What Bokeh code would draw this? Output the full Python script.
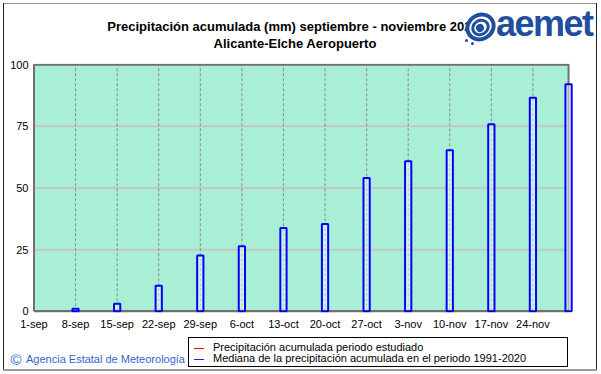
import pandas as pd
from bokeh.plotting import figure
from bokeh.models import FixedTicker, Div
from bokeh.layouts import column, row
from bokeh.embed import file_html
from bokeh.resources import INLINE

# ---------------- data ----------------
title_line1 = "Precipitación acumulada (mm) septiembre - noviembre 2020"
title_line2 = "Alicante-Elche Aeropuerto"
period_start = "2020-09-01"
period_end = "2020-11-30"

tick_dates = ["2020-09-01", "2020-09-08", "2020-09-15", "2020-09-22", "2020-09-29",
              "2020-10-06", "2020-10-13", "2020-10-20", "2020-10-27", "2020-11-03",
              "2020-11-10", "2020-11-17", "2020-11-24"]
tick_labels = ["1-sep", "8-sep", "15-sep", "22-sep", "29-sep", "6-oct", "13-oct",
               "20-oct", "27-oct", "3-nov", "10-nov", "17-nov", "24-nov"]
y_ticks = [0, 25, 50, 75, 100]

median_dates = ["2020-09-08", "2020-09-15", "2020-09-22", "2020-09-29", "2020-10-06",
                "2020-10-13", "2020-10-20", "2020-10-27", "2020-11-03", "2020-11-10",
                "2020-11-17", "2020-11-24", "2020-11-30"]
median_values = [1.0, 3.0, 10.3, 22.6, 26.4, 33.8, 35.4, 54.1, 60.8, 65.3, 75.9, 86.6, 92.1]

obs_dates = ["2020-09-01", "2020-09-14", "2020-09-15"]
obs_values = [0.0, 0.0, 0.4]

legend_labels = ["Precipitación acumulada periodo estudiado",
                 "Mediana de la precipitación acumulada en el periodo 1991-2020"]
credit_text = "Agencia Estatal de Meteorología"
logo_text = "aemet"

# ---------------- helpers ----------------
t0 = pd.Timestamp(period_start)
def to_day(dates):
    return [int((pd.Timestamp(d) - t0).days) for d in dates]

tick_x = to_day(tick_dates)
median_x = to_day(median_dates)
obs_x = to_day(obs_dates)
x_end = to_day([period_end])[0]
y_top = max(y_ticks)

FONT = "Liberation Sans"
CSS_FONT = "'Liberation Sans', Arial, sans-serif"
LOGO_BLUE = "#1f4f9e"
FRAME = "#222222"
FRAME2 = "#999999"
TOTAL_W = 600
SIDE_L, SIDE_R = 4, 4
FIG_W, FIG_H = 592, 278
TOP_H, BOT_H = 56, 38

def box(left, top, w, h, bg, extra=""):
    return (f'<div style="position:absolute;left:{left}px;top:{top}px;width:{w}px;height:{h}px;'
            f'background:{bg};{extra}"></div>')

def text(left, top, content, size, color="#000", weight="normal", lh=None, width=None,
         align="left", extra=""):
    lh = lh if lh is not None else size + 2
    w = f"width:{width}px;" if width is not None else ""
    return (f'<div style="position:absolute;left:{left}px;top:{top}px;{w}text-align:{align};'
            f'font-size:{size}px;font-weight:{weight};line-height:{lh}px;color:{color};'
            f'white-space:nowrap;{extra}">{content}</div>')

# ---------------- figure ----------------
p = figure(width=FIG_W, height=FIG_H, x_range=(-0.25, 91.0), y_range=(-0.5, 100.5),
           output_backend="svg", toolbar_location=None,
           min_border_left=28, min_border_right=22, min_border_top=7, min_border_bottom=22,
           background_fill_color="white", border_fill_color="white")
p.outline_line_color = None
p.xgrid.visible = False
p.ygrid.visible = False

p.quad(left=[0], right=[x_end], bottom=[0], top=[y_top], fill_color="#a9efd6", line_color=None)
inner_y = y_ticks[1:-1]
p.segment(x0=[0] * len(inner_y), x1=[x_end] * len(inner_y), y0=inner_y, y1=inner_y,
          line_color="#c6c6c6", line_width=2)
inner_x = tick_x[1:]
p.segment(x0=inner_x, x1=inner_x, y0=[0] * len(inner_x), y1=[y_top] * len(inner_x),
          line_color="#8a8a8a", line_width=1, line_dash="3 2")

p.line(obs_x, obs_values, line_color="#ff0000", line_width=1)

p.line([0, 0, x_end, x_end], [0, y_top, y_top, 0], line_color="#707070", line_width=2)
p.line([0, x_end], [0, 0], line_color="#707070", line_width=2.5)

p.vbar(x=median_x, top=median_values, width=1.05, bottom=0,
       fill_color="white", fill_alpha=0.45, line_color="#0000ff", line_width=2)

for ax in (p.xaxis[0], p.yaxis[0]):
    ax.axis_line_color = None
    ax.major_tick_line_color = None
    ax.minor_tick_line_color = None
    ax.major_tick_out = 0
    ax.major_tick_in = 0
    ax.minor_tick_out = 0
    ax.minor_tick_in = 0
    ax.major_label_text_font = FONT
    ax.major_label_text_font_size = "11px"
    ax.major_label_text_color = "#000000"
p.xaxis[0].ticker = FixedTicker(ticks=tick_x)
p.xaxis[0].major_label_overrides = {x: l for x, l in zip(tick_x, tick_labels)}
p.xaxis[0].major_label_standoff = 5
p.yaxis[0].ticker = FixedTicker(ticks=y_ticks)
p.yaxis[0].major_label_standoff = 4

# ---------------- header (page coordinates) ----------------
def ring(cx, cy, w, h, bw, bg):
    return (f'<div style="position:absolute;left:{cx - w / 2}px;top:{cy - h / 2}px;width:{w}px;'
            f'height:{h}px;box-sizing:border-box;border:{bw}px solid {LOGO_BLUE};border-radius:50%;'
            f'background:{bg};transform:rotate(-30deg);"></div>')

header_html = (
    f'<div style="position:relative;width:{TOTAL_W}px;height:{TOP_H}px;background:#fff;'
    f'font-family:{CSS_FONT};overflow:hidden;">'
    + box(3, 3, 594, 1, FRAME2) + box(3, 3, 1, TOP_H - 3, FRAME) + box(596, 3, 1, TOP_H - 3, FRAME)
    + text(0, 19, title_line1, 13, weight="bold", lh=15, width=586, align="center")
    + text(0, 36, title_line2, 13, weight="bold", lh=15, width=590, align="center")
    + ring(480, 27, 31, 28, 4, "#ffffff") + ring(480, 27, 19, 17, 3, "transparent")
    + ring(480, 27, 8, 7, 4, "transparent")
    + box(465, 39, 3, 3, LOGO_BLUE, "border-radius:50%;")
    + box(471, 42, 3, 3, LOGO_BLUE, "border-radius:50%;")
    + text(496, 6, logo_text, 36, color=LOGO_BLUE, weight="bold", lh=36,
           extra="letter-spacing:-1.5px;")
    + '</div>')
header = Div(text=header_html, width=TOTAL_W, height=TOP_H, margin=0)

# ---------------- side frame bars ----------------
left_side = Div(text=f'<div style="position:relative;width:{SIDE_L}px;height:{FIG_H}px;">'
                     + box(3, 0, 1, FIG_H, FRAME) + '</div>',
                width=SIDE_L, height=FIG_H, margin=0)
right_side = Div(text=f'<div style="position:relative;width:{SIDE_R}px;height:{FIG_H}px;">'
                      + box(0, 0, 1, FIG_H, FRAME) + '</div>',
                 width=SIDE_R, height=FIG_H, margin=0)

# ---------------- footer (page y offset 334) ----------------
legend_html = (
    '<div style="position:absolute;left:188px;top:3px;width:380px;height:30px;box-sizing:border-box;'
    'border:1px solid #000;background:#fff;">'
    + box(5, 10, 10, 1, "#ff0000") + text(24, 4, legend_labels[0], 11, lh=11)
    + box(5, 21, 10, 1, "#2020ff") + text(24, 15, legend_labels[1], 11, lh=11)
    + '</div>')
footer_html = (
    f'<div style="position:relative;width:{TOTAL_W}px;height:{BOT_H}px;background:#fff;'
    f'font-family:{CSS_FONT};overflow:hidden;">'
    + box(3, 0, 1, 35, FRAME) + box(596, 0, 1, 35, FRAME) + box(3, 35, 594, 2, FRAME2)
    + text(9, 18, "©", 15, color="#3366cc", lh=16, width=14, align="center")
    + text(26, 19, credit_text, 11, color="#3366cc", lh=13)
    + legend_html
    + '</div>')
footer = Div(text=footer_html, width=TOTAL_W, height=BOT_H, margin=0)

layout = column(header, row(left_side, p, right_side, spacing=0), footer, spacing=0)

open("out.html", "w").write(file_html(layout, INLINE))
